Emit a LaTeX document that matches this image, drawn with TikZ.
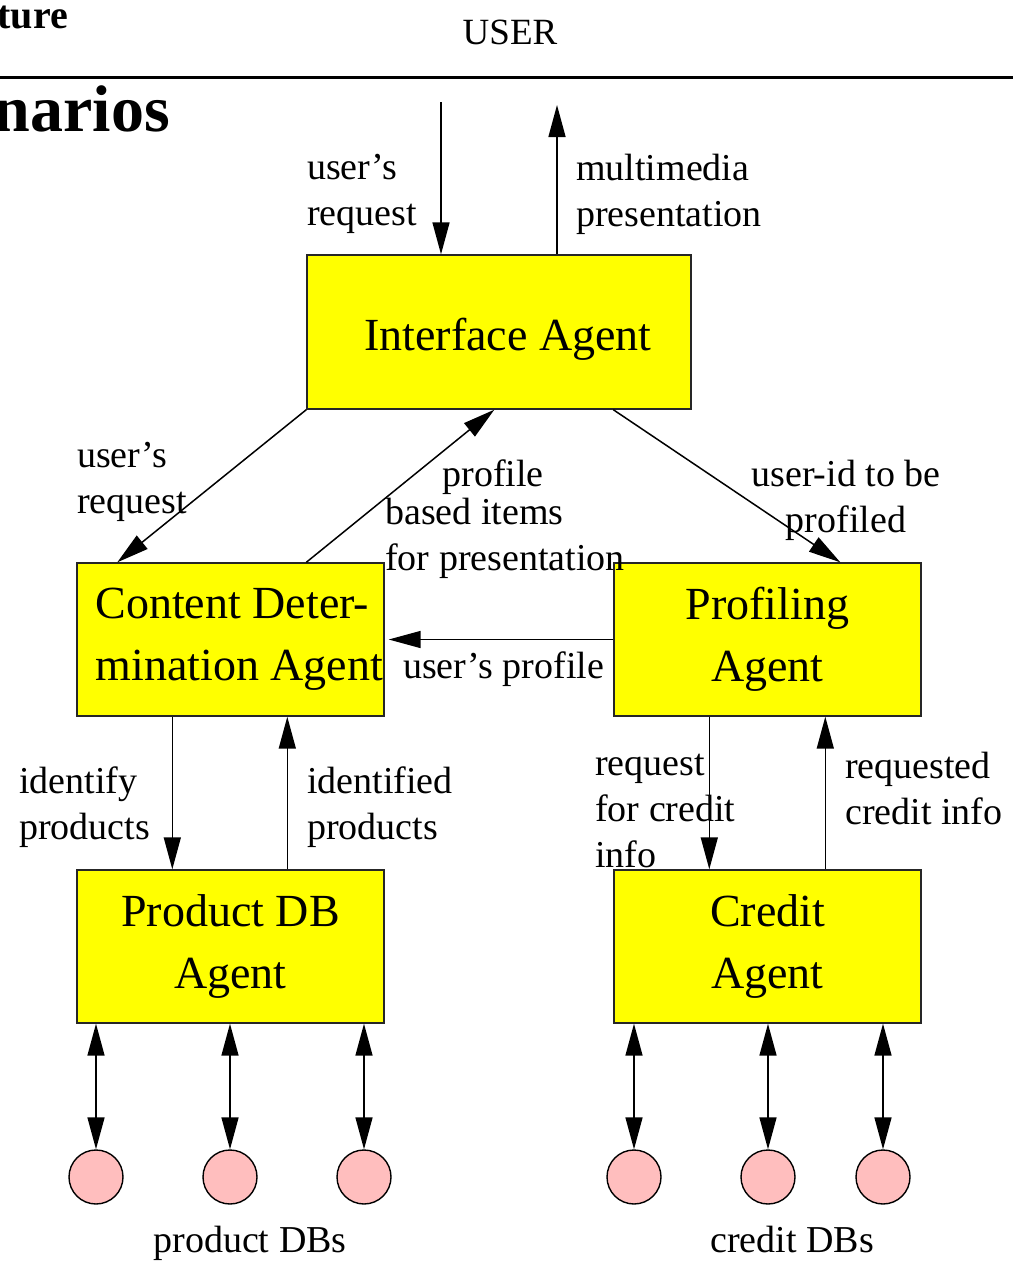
\documentclass[tikz,border=0pt]{standalone}
\usepackage{fontspec}
\setmainfont{Liberation Serif}
\usetikzlibrary{arrows.meta}
\usetikzlibrary{positioning}
\definecolor{agentfill}{RGB}{255,255,0}
\definecolor{dbfill}{RGB}{255,190,190}

\begin{document}
\begin{tikzpicture}[x=1pt, y=-1pt,
    agent/.style={rectangle, draw=black!85, line width=1.4pt, fill=agentfill, minimum width=307pt, minimum height=153pt, align=center, inner sep=0pt, font=\fontsize{46}{62}\selectfont},
    db/.style={circle, draw=black, line width=1.4pt, fill=dbfill, minimum size=54pt, inner sep=0pt},
    lbl/.style={align=left, inner sep=0pt, font=\fontsize{38}{46}\selectfont},
    flow/.style={line width=1.5pt, -{Triangle[length=32pt,width=17pt]}},
    both/.style={line width=1.5pt, {Triangle[length=32pt,width=17pt]}-{Triangle[length=32pt,width=17pt]}}]
      \useasboundingbox (0,0) rectangle (1013,1272);
      % bits of the page around the figure
      \node[anchor=base east, inner sep=0pt, font=\fontsize{40}{44}\selectfont\bfseries] (p1) at (68,28) {ture};
      \node[anchor=base, inner sep=0pt, font=\fontsize{37}{44}\selectfont] (user) at (510,44) {USER};
      \node[anchor=base east, inner sep=0pt, font=\fontsize{66}{70}\selectfont\bfseries] (p2) at (170,131) {narios};
      \coordinate (r1) at (0,77);
      \coordinate (r2) at (1013,77);
      \draw[line width=3pt] (r1) -- (r2);
      % agents
      \node[agent, minimum width=384pt, minimum height=154pt] (a1) at (499,332) {};
      \node[inner sep=0pt, font=\fontsize{46}{62}\selectfont] (a1t) at ([xshift=9pt, yshift=-7pt]a1.center) {Interface Agent};
      \node[agent] (a2) at (230.5,639.5) {};
      \node[anchor=west, inner sep=0pt, align=left, font=\fontsize{46}{62}\selectfont] (a2t) at ([xshift=19pt]a2.west) {Content Deter-\\mination Agent};
      \node[agent] (a3) at (767.5,639.5) {Profiling\\Agent};
      \node[agent] (a4) at (230.5,946.5) {Product DB\\Agent};
      \node[agent] (a5) at (767.5,946.5) {Credit\\Agent};
      % databases
      \foreach \i/\x in {1/96,2/230,3/364,4/634,5/768,6/883}
        \node[db] (d\i) at (\x,1177) {};
      \foreach \i/\a in {1/a4,2/a4,3/a4,4/a5,5/a5,6/a5}
        \draw[both] (\a.south -| d\i) -- (d\i.north);
      % messages
      \coordinate (u1) at (441,102);
      \coordinate (u2) at (557,105);
      \draw[flow] (u1) -- (u1 |- a1.north);
      \draw[flow] (a1.north -| u2) -- (u2);
      \draw[flow] (a1.south west) -- ([xshift=41pt]a2.north west);
      \draw[flow] ([xshift=230pt]a2.north west) -- ([xshift=188pt]a1.south west);
      \draw[flow] ([xshift=307pt]a1.south west) -- ([xshift=227pt]a3.north west);
      \draw[flow] (a3.west) -- ([xshift=4pt]a2.east);
      \draw[flow] ([xshift=96pt]a2.south west) -- ([xshift=96pt]a4.north west);
      \draw[flow] ([xshift=211pt]a4.north west) -- ([xshift=211pt]a2.south west);
      \draw[flow] ([xshift=96pt]a3.south west) -- ([xshift=96pt]a5.north west);
      \draw[flow] ([xshift=212pt]a5.north west) -- ([xshift=212pt]a3.south west);
      % labels
      \node[lbl, anchor=west] (l1) at (307,194) {user's\\request};
      \node[lbl, anchor=west] (l2) at (576,194) {multimedia\\presentation};
      \node[lbl, anchor=west] (l3) at (77,481.5) {user's\\request};
      \node[lbl] (l4) at (493,477) {profile};
      \node[lbl, anchor=west] (l5) at (385,538.5) {based items\\for presentation};
      \node[lbl, align=center] (l6) at (846,500) {user-id to be\\profiled};
      \node[lbl, anchor=west] (l7) at (403,669) {user's profile};
      \node[lbl, anchor=west] (l8) at (19,807) {identify\\products};
      \node[lbl, anchor=west] (l9) at (307,807) {identified\\products};
      \node[lbl, anchor=west] (l10) at (595,811) {request\\for credit\\info};
      \node[lbl, anchor=west] (l11) at (845,788.5) {requested\\credit info};
      \node[lbl, anchor=base] (l12) at (250,1252) {product DBs};
      \node[lbl, anchor=base] (l13) at (792,1252) {credit DBs};
\end{tikzpicture}
\end{document}
